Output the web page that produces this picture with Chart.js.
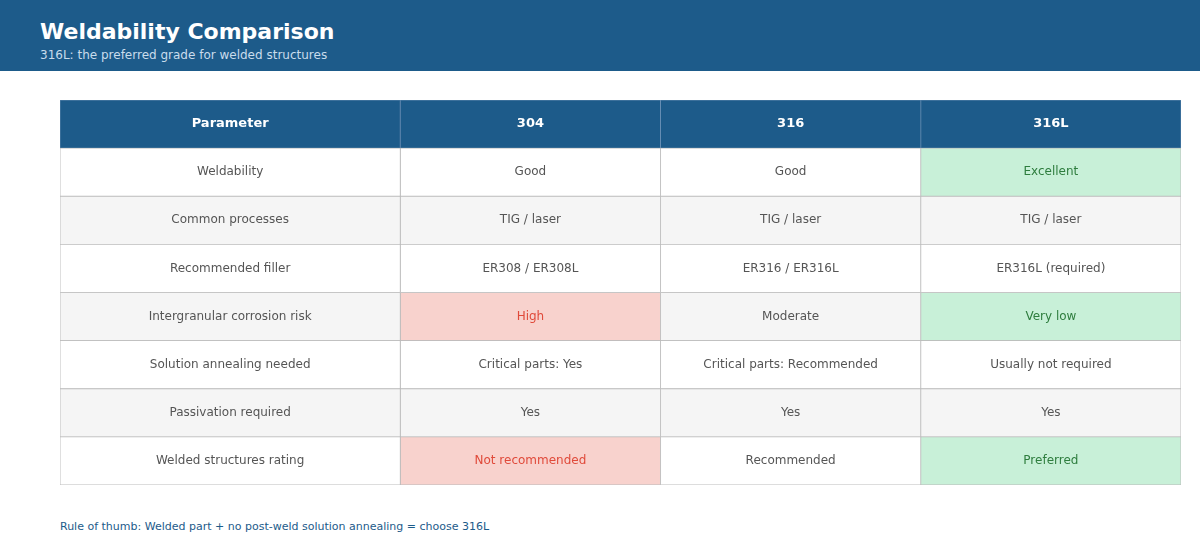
<!DOCTYPE html>
<html lang="en">
<head>
<meta charset="UTF-8">
<title>Weldability Comparison</title>
<script src="https://cdn.jsdelivr.net/npm/chart.js"></script>
<style>
    body { margin: 0; width: 1200px; height: 560px; background: #fff; font-family: "DejaVu Sans", sans-serif; position: relative; overflow: hidden; }
    .top { height: 71px; background: #1d5b8a; color: #fff; }
    .top h1 { margin: 0; position: absolute; left: 40px; top: 19px; font-size: 22px; font-weight: bold; }
    .top p { margin: 0; position: absolute; left: 40px; top: 48px; font-size: 12px; color: #c9dcec; }
    .wrap { position: absolute; left: 59px; top: 99px; width: 1123px; height: 387px; }
    .note { position: absolute; left: 60px; top: 520px; font-size: 11px; color: #1d5b8a; }
</style>
</head>
<body>
<div class="top">
    <h1>Weldability Comparison</h1>
    <p>316L: the preferred grade for welded structures</p>
</div>
<div class="wrap"><canvas id="tbl"></canvas></div>
<div class="note">Rule of thumb: Welded part + no post-weld solution annealing = choose 316L</div>

<script>
    const headers = ['Parameter', '304', '316', '316L'];
    const parameters = ['Weldability', 'Common processes', 'Recommended filler', 'Intergranular corrosion risk',
        'Solution annealing needed', 'Passivation required', 'Welded structures rating'];
    const grade304 = ['Good', 'TIG / laser', 'ER308 / ER308L', 'High', 'Critical parts: Yes', 'Yes', 'Not recommended'];
    const grade316 = ['Good', 'TIG / laser', 'ER316 / ER316L', 'Moderate', 'Critical parts: Recommended', 'Yes', 'Recommended'];
    const grade316L = ['Excellent', 'TIG / laser', 'ER316L (required)', 'Very low', 'Usually not required', 'Yes', 'Preferred'];
    // cell highlight: 'good', 'bad' or ''
    const mark304 = ['', '', '', 'bad', '', '', 'bad'];
    const mark316 = ['', '', '', '', '', '', ''];
    const mark316L = ['good', '', '', 'good', '', '', 'good'];

    const colEdges = [0, 340, 600, 860, 1120];
    const columns = [
        { texts: parameters, marks: parameters.map(() => '') },
        { texts: grade304, marks: mark304 },
        { texts: grade316, marks: mark316 },
        { texts: grade316L, marks: mark316L },
    ];
    const rowLabels = ['h'].concat(parameters);

    const fill = { good: '#c8f0d8', bad: '#f8d2cd' };
    const ink = { good: '#2e7d3e', bad: '#e04a3a' };

    const datasets = columns.map((col, c) => ({
        label: headers[c],
        data: rowLabels.map(() => [colEdges[c], colEdges[c + 1]]),
        backgroundColor: rowLabels.map((r, i) => {
            if (i === 0) return '#1d5b8a';
            const m = col.marks[i - 1];
            if (m) return fill[m];
            return i % 2 === 0 ? '#f5f5f5' : '#ffffff';
        }),
        borderColor: rowLabels.map((r, i) => i === 0 ? '#5c86ad' : '#bbbbbb'),
        borderWidth: 0.8,
        borderSkipped: false,
        categoryPercentage: 1,
        barPercentage: 1,
    }));

    const cellText = {
        id: 'cellText',
        afterDatasetsDraw(chart) {
            const ctx = chart.ctx;
            ctx.save();
            ctx.textAlign = 'center';
            ctx.textBaseline = 'middle';
            columns.forEach((col, c) => {
                chart.getDatasetMeta(c).data.forEach((el, i) => {
                    const cx = (el.x + el.base) / 2;
                    if (i === 0) {
                        ctx.font = 'bold 13px "DejaVu Sans"';
                        ctx.fillStyle = '#ffffff';
                        ctx.fillText(headers[c], cx, el.y);
                    } else {
                        const m = col.marks[i - 1];
                        ctx.font = '12px "DejaVu Sans"';
                        ctx.fillStyle = m ? ink[m] : '#555555';
                        ctx.fillText(col.texts[i - 1], cx, el.y);
                    }
                });
            });
            ctx.restore();
        }
    };

    new Chart(document.getElementById('tbl'), {
        type: 'bar',
        data: { labels: rowLabels, datasets },
        options: {
            indexAxis: 'y',
            responsive: true,
            maintainAspectRatio: false,
            animation: false,
            layout: { padding: 1 },
            plugins: { legend: { display: false }, tooltip: { enabled: false } },
            scales: {
                x: { type: 'linear', min: 0, max: 1120, display: false },
                y: { display: false, stacked: true },
            },
        },
        plugins: [cellText],
    });
</script>
</body>
</html>
